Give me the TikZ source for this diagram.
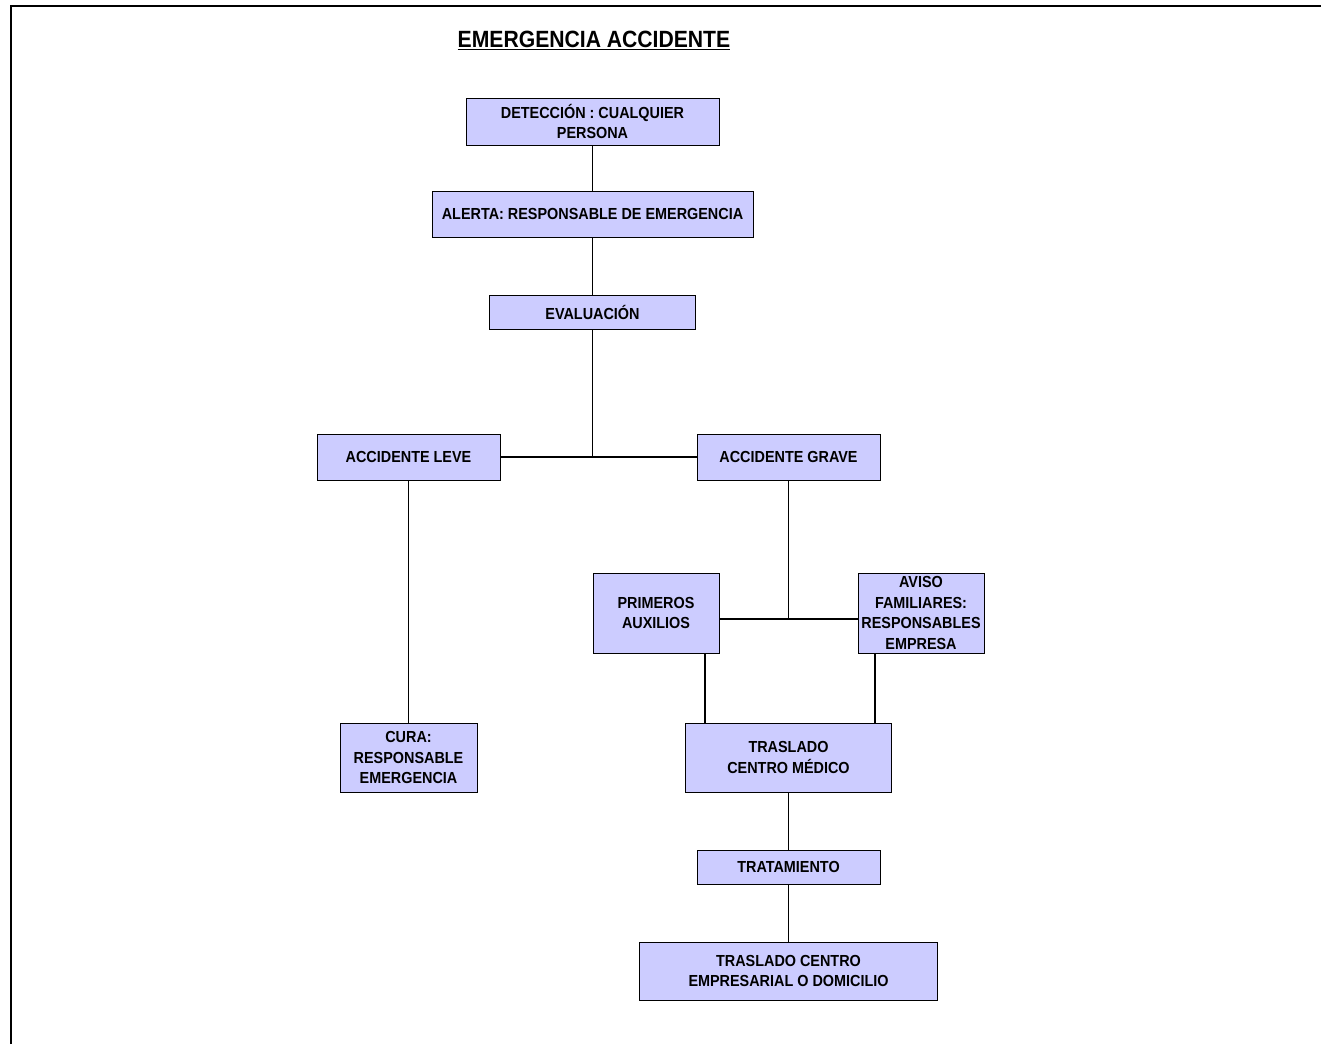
\documentclass[tikz,border=0pt]{standalone}
\usepackage{fontspec}
\setmainfont[FakeStretch=0.9]{Liberation Sans}
\usetikzlibrary{calc}
\definecolor{boxfill}{RGB}{204,204,255}
\begin{document}
\begin{tikzpicture}[x=1pt,y=-1pt,
  box/.style={draw=black, fill=boxfill, line width=1pt, align=center,
    font=\bfseries\fontsize{16}{20.5}\selectfont, inner sep=0pt},
  conn/.style={draw=black, line width=1.2pt}]
\useasboundingbox (0,0) rectangle (1321,1044);
\draw[line width=1.4pt] (11,1044) -- (11,6) -- (1321,6);
\node[font=\bfseries\fontsize{23.5}{26}\selectfont] (title) at (594,40) {\underline{EMERGENCIA ACCIDENTE}};
\node[box, minimum width=253, minimum height=47] (det) at (592.5,121.5) {DETECCIÓN : CUALQUIER\\PERSONA};
\node[box, minimum width=321, minimum height=46] (alerta) at (592.5,214) {ALERTA: RESPONSABLE DE EMERGENCIA};
\node[box, minimum width=206, minimum height=34] (eval) at (592.5,312) {EVALUACIÓN};
\node[box, minimum width=183, minimum height=46] (leve) at (408.5,457) {ACCIDENTE LEVE};
\node[box, minimum width=183, minimum height=46] (grave) at (788.5,457) {ACCIDENTE GRAVE};
\node[box, minimum width=126, minimum height=80] (prim) at (656,613) {PRIMEROS\\AUXILIOS};
\node[box, minimum width=126, minimum height=80] (aviso) at (921,613) {AVISO\\FAMILIARES:\\RESPONSABLES\\EMPRESA};
\node[box, minimum width=137, minimum height=69] (cura) at (408.5,757.5) {CURA:\\RESPONSABLE\\EMERGENCIA};
\node[box, minimum width=206, minimum height=69] (trasl) at (788.5,757.5) {TRASLADO\\CENTRO MÉDICO};
\node[box, minimum width=183, minimum height=34] (trat) at (788.5,867) {TRATAMIENTO};
\node[box, minimum width=298, minimum height=58] (final) at (788.5,971) {TRASLADO CENTRO\\EMPRESARIAL O DOMICILIO};
\coordinate (j1) at (592.5,457);
\coordinate (j2) at (788.5,619);
\draw[conn] (det) -- (alerta);
\draw[conn] (alerta) -- (eval);
\draw[conn] (eval) -- (j1);
\draw[conn] (leve) -- (grave);
\draw[conn] (leve) -- (cura);
\draw[conn] (grave) -- (j2);
\draw[conn] (j2 -| prim.east) -- (j2 -| aviso.west);
\draw[conn] ([xshift=49pt]prim.south) -- ([xshift=49pt]prim.south |- trasl.north);
\draw[conn] ([xshift=-46pt]aviso.south) -- ([xshift=-46pt]aviso.south |- trasl.north);
\draw[conn] (trasl) -- (trat);
\draw[conn] (trat) -- (final);
\end{tikzpicture}
\end{document}
